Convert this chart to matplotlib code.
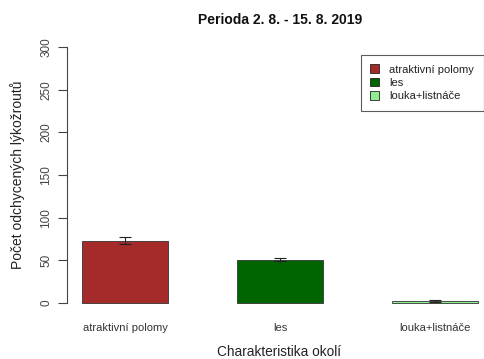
import numpy as np
import matplotlib
matplotlib.use("Agg")
from matplotlib import pyplot as plt
from matplotlib.patches import Patch

plt.rcParams['font.family'] = ['Liberation Sans', 'DejaVu Sans']

# Counts of caught bark beetles per surrounding type
categories = ["atraktivní polomy", "les", "louka+listnáče"]
means = [73, 50.5, 2]
errors = [4.5, 1.5, 1]
colors = ["#A52A2A", "#006400", "#90EE90"]
yticks = [0, 50, 100, 150, 200, 250, 300]

W, H = 484, 359
fig = plt.figure(figsize=(W / 100, H / 100), dpi=100)

# plot region in pixels (left, top, right, bottom)
left, top, right, bottom = 67, 37, 484, 313
ax = fig.add_axes([left / W, 1 - bottom / H, (right - left) / W, (bottom - top) / H])

x = np.arange(len(categories))
ax.bar(x, means, width=0.555, color=colors, edgecolor="#333333", linewidth=0.6)
ax.errorbar(x, means, yerr=errors, fmt="none", ecolor="#222222",
            elinewidth=0.8, capsize=4, capthick=0.8)

ax.set_xlim(-0.374, 2.316)
ax.set_ylim(-12, 312)

for s in ["top", "right", "bottom"]:
    ax.spines[s].set_visible(False)
ax.spines["left"].set_bounds(0, 300)
ax.spines["left"].set_color("#444444")
ax.spines["left"].set_linewidth(0.8)

ax.set_yticks(yticks)
ax.set_yticklabels([str(v) for v in yticks], rotation=90, va="center",
                   fontsize=8.5, color="#444444")
ax.tick_params(axis="y", length=6.5, width=0.8, color="#444444", pad=4)

ax.set_xticks(x)
ax.set_xticklabels(categories, fontsize=8, color="#333333")
ax.tick_params(axis="x", length=0, pad=7)

ax.set_ylabel("Počet odchycených lýkožroutů", fontsize=10, color="#222222")
ax.yaxis.set_label_coords(25 / W, 1 - 175 / H, transform=fig.transFigure)
fig.text(279 / W, 1 - 352 / H, "Charakteristika okolí", ha="center", va="center",
         fontsize=9.8, color="#222222")
fig.text(280 / W, 1 - 20 / H, "Perioda 2. 8. - 15. 8. 2019", ha="center", va="center",
         fontsize=10, fontweight="bold", color="#111111")

handles = [Patch(facecolor=c, edgecolor="#222222", linewidth=0.6) for c in colors]
leg = ax.legend(handles, categories, loc="upper left",
                bbox_to_anchor=(361 / W, 1 - 55 / H), bbox_transform=fig.transFigure,
                fontsize=8, frameon=True, fancybox=False, edgecolor="#333333",
                handlelength=0.8, handleheight=0.8, handletextpad=0.9,
                labelspacing=0.3, borderpad=0.85, borderaxespad=0)
leg.get_frame().set_linewidth(0.8)
for t in leg.get_texts():
    t.set_color("#222222")

fig.savefig("out.png", dpi=100)
